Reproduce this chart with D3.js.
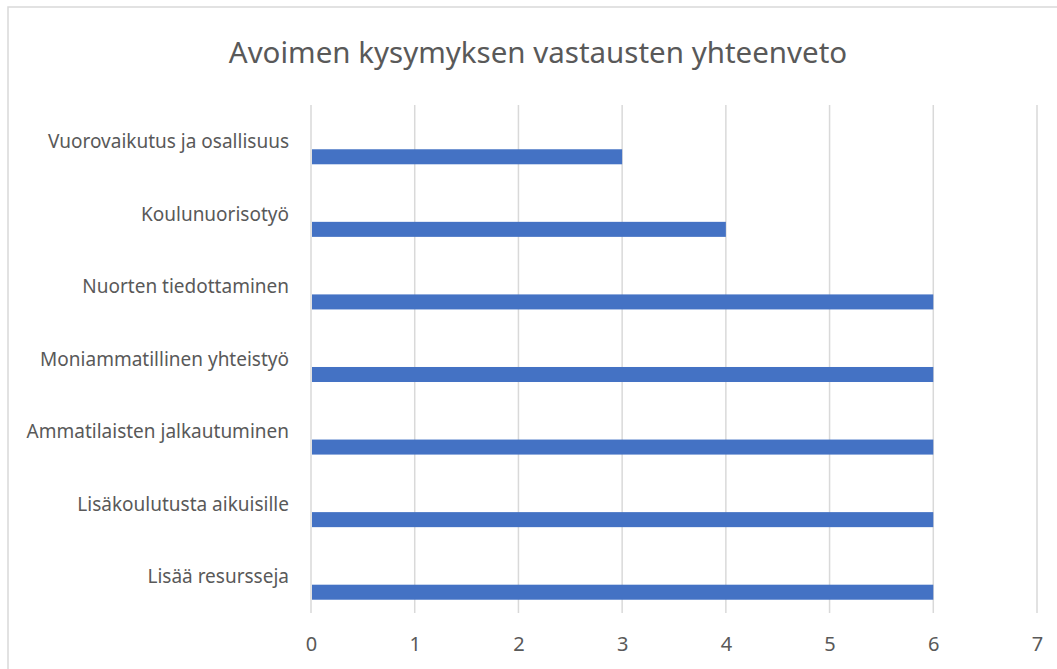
<!DOCTYPE html>
<html>
<head>
<meta charset="utf-8">
<script src="https://cdn.jsdelivr.net/npm/d3@7"></script>
<style>
  body { margin: 0; background: #fff; }
  svg { font-family: "Noto Sans", "Open Sans", sans-serif; }
</style>
</head>
<body>
<svg id="chart"></svg>
<script>
// data
const categories = [
    "Vuorovaikutus ja osallisuus",
    "Koulunuorisotyö",
    "Nuorten tiedottaminen",
    "Moniammatillinen yhteistyö",
    "Ammatilaisten jalkautuminen",
    "Lisäkoulutusta aikuisille",
    "Lisää resursseja"
];
const values = [3, 4, 6, 6, 6, 6, 6];
const xTicks = [0, 1, 2, 3, 4, 5, 6, 7];
const title = "Avoimen kysymyksen vastausten yhteenveto";

const width = 1057, height = 669;
const margin = { top: 105, right: 20, bottom: 56, left: 311 };
const textColor = "#595959";

const svg = d3.select("#chart")
    .attr("width", width)
    .attr("height", height);

// chart frame (only top and left edge visible in the crop)
svg.append("rect")
    .attr("x", 8).attr("y", 7)
    .attr("width", width + 20).attr("height", height + 20)
    .attr("fill", "none")
    .attr("stroke", "#d9d9d9")
    .attr("stroke-width", 1.5);

svg.append("text")
    .attr("x", 538)
    .attr("y", 63)
    .attr("text-anchor", "middle")
    .attr("font-size", "29.5px")
    .attr("fill", textColor)
    .text(title);

const xScale = d3.scaleLinear()
    .domain([0, 7])
    .range([margin.left, 1037]);

const yScale = d3.scaleBand()
    .domain(categories)
    .range([margin.top, height - margin.bottom]);

const bw = yScale.bandwidth();

// gridlines
svg.append("g")
    .selectAll("line")
    .data(xTicks)
    .join("line")
    .attr("x1", d => xScale(d))
    .attr("x2", d => xScale(d))
    .attr("y1", margin.top)
    .attr("y2", height - margin.bottom)
    .attr("stroke", "#d9d9d9")
    .attr("stroke-width", 1.5);

// bars sit in the lower part of each band
svg.append("g")
    .selectAll("rect")
    .data(categories)
    .join("rect")
    .attr("x", xScale(0) + 1)
    .attr("y", d => yScale(d) + bw * 0.61)
    .attr("width", (d, i) => xScale(values[i]) - xScale(0) - 1)
    .attr("height", bw * 0.207)
    .attr("fill", "#4472c4");

// category labels
svg.append("g")
    .selectAll("text")
    .data(categories)
    .join("text")
    .attr("x", 289)
    .attr("y", d => yScale(d) + bw / 2)
    .attr("dy", "0.35em")
    .attr("text-anchor", "end")
    .attr("font-size", "19px")
    .attr("fill", textColor)
    .text(d => d);

// x axis labels
const xAxis = svg.append("g")
    .attr("transform", `translate(0, ${height - margin.bottom})`)
    .call(d3.axisBottom(xScale).tickValues(xTicks).tickFormat(d3.format("d")).tickSize(0).tickPadding(24));
xAxis.select(".domain").remove();
xAxis.selectAll("text")
    .attr("font-family", "\"Noto Sans\", sans-serif")
    .attr("font-size", "20px")
    .attr("fill", textColor);
</script>
</body>
</html>
